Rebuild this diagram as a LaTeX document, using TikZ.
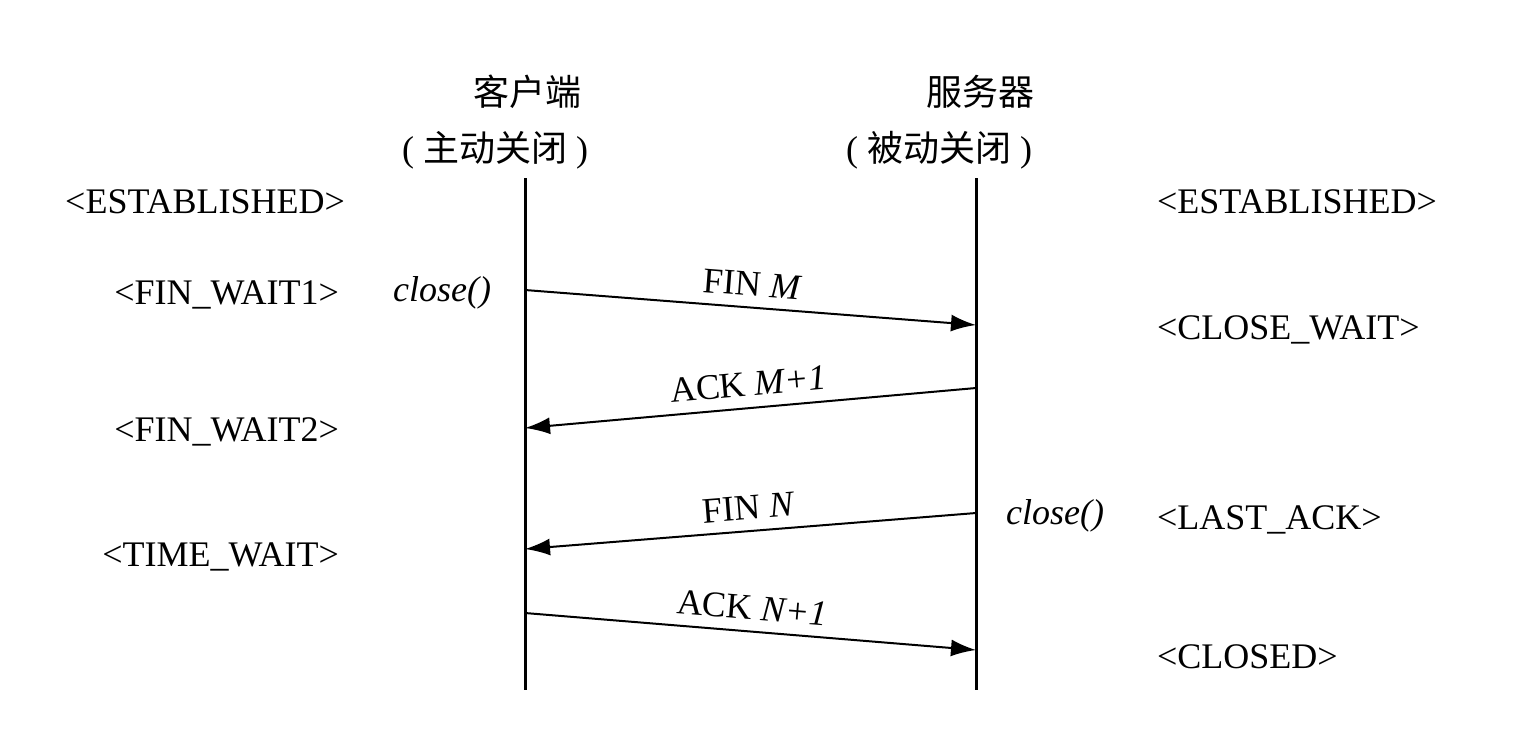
\documentclass[tikz,border=0pt]{standalone}
\usepackage{fontspec}
\setmainfont{Liberation Serif}
\newfontfamily\cjk{Noto Sans CJK SC}
\usetikzlibrary{arrows.meta}

\begin{document}
\begin{tikzpicture}[x=0.5pt, y=-0.5pt,
				>={Latex[length=12.5pt,width=8.5pt]},   %Pfeilspitzen
				font=\fontsize{18}{21}\selectfont,
				lifeline/.style={line width=1.5pt},
				msg/.style={->, line width=1pt},
				call/.style={font=\fontsize{18}{21}\selectfont\itshape}]
				\useasboundingbox (0,0) rectangle (1514,730);
				% Kopfzeilen
				\node (client) at (527,92) {\cjk 客户端};
				\node (clientrole) at (495,150) {( {\cjk 主动关闭} )};
				\node (server) at (980,92) {\cjk 服务器};
				\node (serverrole) at (939,150) {( {\cjk 被动关闭} )};
				% Lebenslinien
				\coordinate (ctop) at (525,178);
				\coordinate (cbot) at (525,690);
				\coordinate (stop) at (976,178);
				\coordinate (sbot) at (976,690);
				\draw[lifeline] (ctop) -- (cbot);
				\draw[lifeline] (stop) -- (sbot);
				% Zustaende
				\node[anchor=east] (cest) at (352,202) {<ESTABLISHED>};
				\node[anchor=east] (cfw1) at (346,295) {<FIN\_WAIT1>};
				\node[anchor=east] (cfw2) at (346,432) {<FIN\_WAIT2>};
				\node[anchor=east] (ctw) at (346,557) {<TIME\_WAIT>};
				\node[anchor=west] (sest) at (1150,202) {<ESTABLISHED>};
				\node[anchor=west] (scw) at (1150,330) {<CLOSE\_WAIT>};
				\node[anchor=west] (sla) at (1150,520) {<LAST\_ACK>};
				\node[anchor=west] (scl) at (1150,657) {<CLOSED>};
				\node[call] (cclose) at (442,293) {close()};
				\node[call] (sclose) at (1055,516) {close()};
				% Nachrichten
				\foreach \n/\yc/\ys in {1/290/325, 2/428/388, 3/549/513, 4/613/650} {
					\coordinate (c\n) at (525,\yc);
					\coordinate (s\n) at (976,\ys);
				}
				\draw[msg] (c1) -- node[above=2pt, sloped] {FIN \textit{M}} (s1);
				\draw[msg] (s2) -- node[above=2pt, sloped] {ACK \textit{M+1}} (c2);
				\draw[msg] (s3) -- node[above=2pt, sloped] {FIN \textit{N}} (c3);
				\draw[msg] (c4) -- node[above=2pt, sloped] {ACK \textit{N+1}} (s4);
			\end{tikzpicture}
\end{document}
